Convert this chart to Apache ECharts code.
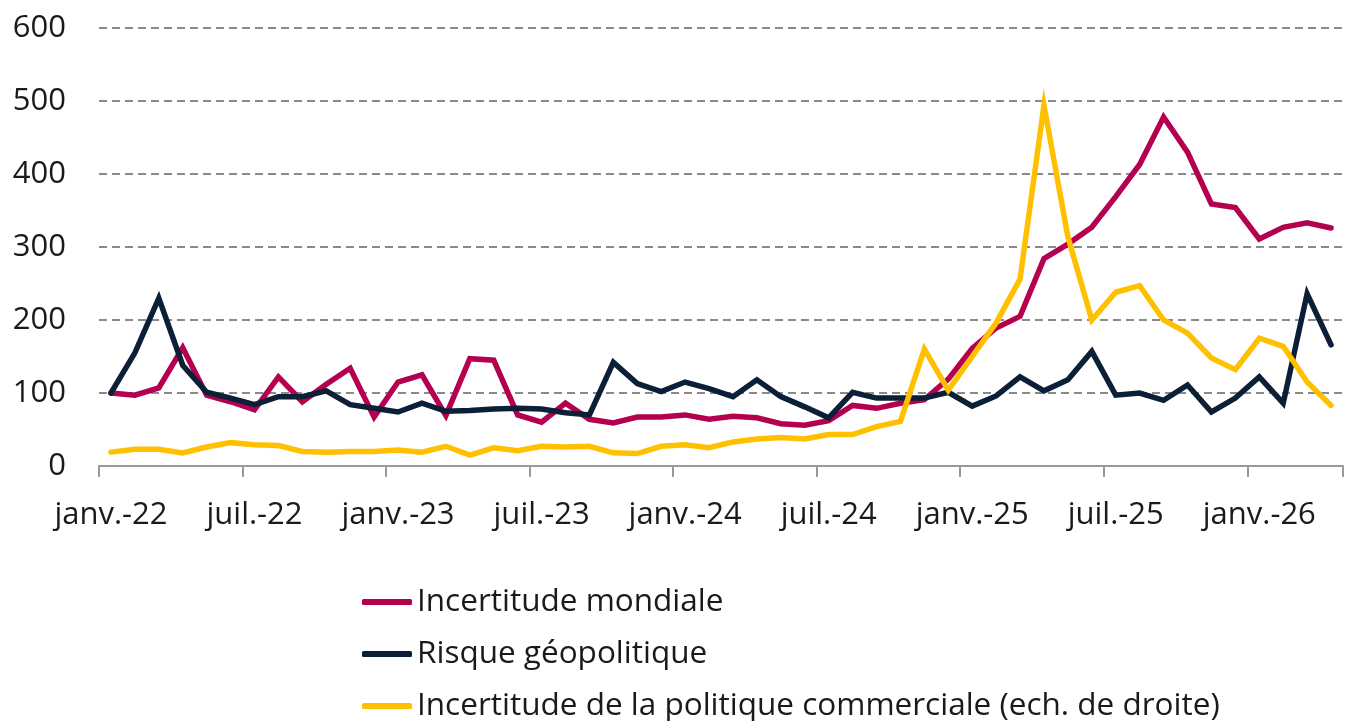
<!DOCTYPE html>
<html>
<head>
<meta charset="utf-8">
<script src="https://cdn.jsdelivr.net/npm/echarts@6/dist/echarts.min.js"></script>
<style>
    html, body { margin: 0; padding: 0; background: #fff; }
    #chart { width: 1345px; height: 721px; }
</style>
</head>
<body>
<div id="chart"></div>
<script>
// mois de janv.-22 a avr.-26
const monthNames = ['janv.', 'févr.', 'mars', 'avr.', 'mai', 'juin', 'juil.', 'août', 'sept.', 'oct.', 'nov.', 'déc.']
const years = ['22', '23', '24', '25', '26']

const incertitudeMondiale = [
    100, 97, 107, 162, 97, 88, 77, 122, 88, 112, 134, 67,
    115, 125, 69, 147, 145, 70, 60, 86, 64, 59, 67, 67,
    70, 64, 68, 66, 58, 56, 62, 83, 79, 86, 91, 119,
    161, 189, 205, 284, 304, 327, 369, 413, 478, 430, 359, 354,
    311, 327, 333, 326
]
const risqueGeopolitique = [
    100, 155, 230, 138, 101, 93, 84, 95, 95, 103, 84, 79,
    74, 86, 75, 76, 78, 79, 78, 73, 70, 142, 113, 102,
    115, 106, 95, 118, 95, 81, 66, 101, 93, 93, 93, 101,
    82, 96, 122, 103, 118, 157, 97, 100, 90, 111, 74, 93,
    122, 86, 236, 166
]
const incertitudeCommerciale = [
    19, 23, 23, 18, 26, 32, 29, 28, 20, 19, 20, 20,
    22, 19, 27, 15, 25, 21, 27, 26, 27, 18, 17, 27,
    29, 25, 33, 37, 39, 37, 43, 43, 54, 61, 160, 104,
    150, 196, 256, 494, 314, 200, 238, 247, 200, 182, 148, 132,
    175, 164, 115, 83
]

const seriesNames = [
    'Incertitude mondiale',
    'Risque géopolitique',
    'Incertitude de la politique commerciale (ech. de droite)'
]
const seriesColors = ['#B5004F', '#0B1F36', '#FFC000']

const categories = []
for (let i = 0; i < incertitudeMondiale.length; i++) {
    categories.push(monthNames[i % 12] + '-' + years[Math.floor(i / 12)])
}

const chart = echarts.init(document.getElementById('chart'))

const font = "'Open Sans', sans-serif"

const makeSeries = (i, data) => ({
    name: seriesNames[i],
    type: 'line',
    data: data,
    symbol: 'none',
    lineStyle: { color: seriesColors[i], width: 5.5, cap: 'round', join: 'miter' },
    itemStyle: { color: seriesColors[i] },
    emphasis: { disabled: true }
})

// une legende par ligne, empilees verticalement
const legends = []
for (let i = 0; i < seriesNames.length; i++) {
    legends.push({
        left: 362,
        top: 586 + i * 52,
        padding: 0,
        itemWidth: 50,
        itemHeight: 6,
        icon: 'roundRect',
        selectedMode: false,
        textStyle: {
            fontFamily: font,
            fontSize: 31.5,
            color: '#1a1a1a'
        },
        data: [seriesNames[i]]
    })
}

chart.setOption({
    animation: false,
    grid: {
        left: 99,
        right: 2,
        top: 28,
        bottom: 255,
        containLabel: false
    },
    legend: legends,
    xAxis: {
        type: 'category',
        data: categories,
        boundaryGap: true,
        axisLine: { lineStyle: { color: '#9a9a9a', width: 2 } },
        axisTick: { show: true, interval: 5, length: 11, lineStyle: { color: '#9a9a9a', width: 2 } },
        axisLabel: {
            interval: 5,
            margin: 34,
            fontFamily: font,
            fontSize: 31,
            color: '#1a1a1a'
        }
    },
    yAxis: {
        type: 'value',
        min: 0,
        max: 600,
        interval: 100,
        axisLine: { show: false },
        axisTick: { show: false },
        axisLabel: {
            margin: 33,
            fontFamily: font,
            fontSize: 31,
            color: '#1a1a1a'
        },
        splitLine: {
            show: true,
            lineStyle: { color: '#8a8a8a', width: 2, type: [8, 5] }
        }
    },
    series: [
        makeSeries(0, incertitudeMondiale),
        makeSeries(1, risqueGeopolitique),
        makeSeries(2, incertitudeCommerciale)
    ]
})
</script>
</body>
</html>
